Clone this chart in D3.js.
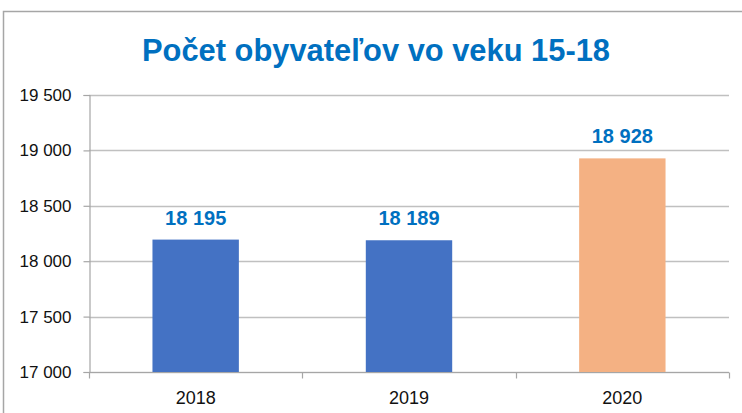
<!DOCTYPE html>
<html>
<head>
<meta charset="utf-8">
<script src="https://cdn.jsdelivr.net/npm/d3@7"></script>
<style>
  body { margin: 0; background: #fff; }
  svg { display: block; font-family: "Liberation Sans", Arial, sans-serif; }
</style>
</head>
<body>
<div id="chart"></div>
<script>
// data
const years = ["2018", "2019", "2020"];
const population = [18195, 18189, 18928];
const barColors = ["#4472C4", "#4472C4", "#F4B183"];
const yTicks = [17000, 17500, 18000, 18500, 19000, 19500];
const title = "Počet obyvateľov vo veku 15-18";

const width = 742, height = 413;
const margin = { top: 95, right: 13, bottom: 41, left: 89 };

const svg = d3.select("#chart").append("svg")
    .attr("width", width)
    .attr("height", height);

// chart frame (only top + left edge visible in the crop)
svg.append("path")
    .attr("d", `M3.5,${height} V11.5 H${width}`)
    .attr("fill", "none")
    .attr("stroke", "#a6a6a6")
    .attr("stroke-width", 1.5);

const x = d3.scaleBand()
    .domain(years)
    .range([margin.left, width - margin.right]);

const y = d3.scaleLinear()
    .domain([17000, 19500])
    .range([height - margin.bottom, margin.top]);

// gridlines
svg.append("g")
    .selectAll("line")
    .data(yTicks)
    .join("line")
    .attr("x1", margin.left)
    .attr("x2", width - margin.right)
    .attr("y1", d => Math.round(y(d)) + 0.5)
    .attr("y2", d => Math.round(y(d)) + 0.5)
    .attr("stroke", "#c0c0c0")
    .attr("stroke-width", 1.5);

// bars
const barW = x.bandwidth() * 0.405;
svg.append("g")
    .selectAll("rect")
    .data(years)
    .join("rect")
    .attr("x", (d) => x(d) + (x.bandwidth() - barW) / 2)
    .attr("y", (d, i) => y(population[i]))
    .attr("width", barW)
    .attr("height", (d, i) => y(17000) - y(population[i]))
    .attr("fill", (d, i) => barColors[i]);

// y axis
const yAxis = svg.append("g")
    .attr("transform", `translate(${margin.left + 0.5},0)`)
    .call(d3.axisLeft(y)
        .tickValues(yTicks)
        .tickSize(6)
        .tickPadding(12)
        .tickFormat(d => d3.format(",")(d).replace(",", " ")));
yAxis.select(".domain").attr("stroke", "#a6a6a6").attr("stroke-width", 1.2);
yAxis.selectAll(".tick line").attr("stroke", "#a6a6a6").attr("stroke-width", 1.2);
yAxis.selectAll(".tick text")
    .attr("font-size", 17)
    .attr("fill", "#111")
    .attr("font-family", "Liberation Sans, Arial, sans-serif");

// x axis (tick marks sit on the category boundaries)
const baseY = Math.round(y(17000)) + 0.5;
const xAxis = svg.append("g");
xAxis.append("line")
    .attr("x1", margin.left).attr("x2", width - margin.right)
    .attr("y1", baseY).attr("y2", baseY)
    .attr("stroke", "#a6a6a6").attr("stroke-width", 1.2);
const bounds = years.map(d => x(d)).concat([x.range()[1]]);
xAxis.selectAll("line.tk")
    .data(bounds)
    .join("line")
    .attr("class", "tk")
    .attr("x1", d => Math.round(d) + 0.5).attr("x2", d => Math.round(d) + 0.5)
    .attr("y1", baseY).attr("y2", baseY + 6)
    .attr("stroke", "#a6a6a6").attr("stroke-width", 1.2);
xAxis.selectAll("text")
    .data(years)
    .join("text")
    .attr("x", d => x(d) + x.bandwidth() / 2)
    .attr("y", 404)
    .attr("text-anchor", "middle")
    .attr("font-size", 18)
    .attr("fill", "#111")
    .text(d => d);

// value labels
svg.append("g")
    .selectAll("text")
    .data(years)
    .join("text")
    .attr("x", d => x(d) + x.bandwidth() / 2)
    .attr("y", (d, i) => y(population[i]) - 15)
    .attr("text-anchor", "middle")
    .attr("font-size", 20)
    .attr("font-weight", "bold")
    .attr("fill", "#0070C0")
    .text((d, i) => d3.format(",")(population[i]).replace(",", " "));

// title
const t = svg.append("text")
    .attr("x", 376)
    .attr("y", 61)
    .attr("text-anchor", "middle")
    .attr("font-size", 31)
    .attr("font-weight", "bold")
    .attr("fill", "#0070C0")
    .text(title);
const tw = t.node().getComputedTextLength();
if (tw > 468) t.attr("textLength", 468).attr("lengthAdjust", "spacingAndGlyphs");
</script>
</body>
</html>
